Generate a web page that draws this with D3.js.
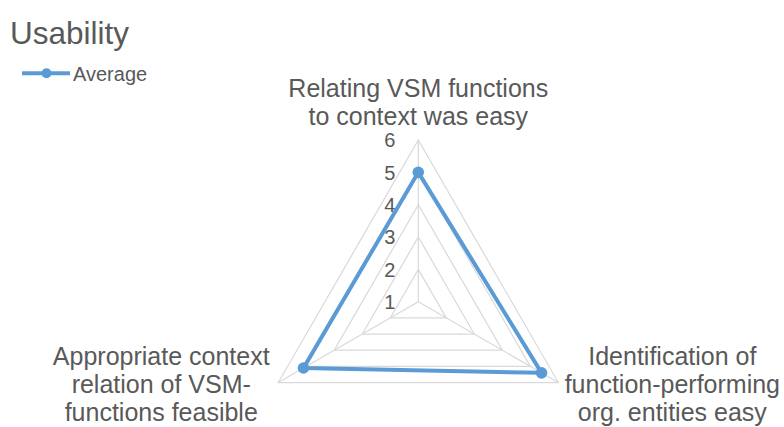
<!DOCTYPE html>
<html>
<head>
<meta charset="utf-8">
<script src="https://cdn.jsdelivr.net/npm/d3@7"></script>
<style>
  body { margin: 0; background: #fff; }
  svg { display: block; font-family: "Liberation Sans", Arial, sans-serif; }
</style>
</head>
<body>
<svg id="chart" width="784" height="427"></svg>
<script>
// Chart data
const categories = [
  ['Relating VSM functions', 'to context was easy'],
  ['Identification of', 'function-performing', 'org. entities easy'],
  ['Appropriate context', 'relation of VSM-', 'functions feasible']
]
const averageValues = [5, 5.4, 5.1]
const tickValues = [1, 2, 3, 4, 5, 6]
const seriesName = 'Average'
const chartTitle = 'Usability'

const svg = d3.select('#chart')
const cx = 418.3
const cy = 301.7
const textColor = '#595959'
const gridColor = '#d9d9d9'
const lineColor = '#5b9bd5'

// Radial scale: center is the axis minimum (1)
const rScale = d3.scaleLinear().domain([1, 6]).range([0, 161.7])
// Angles: top, bottom right, bottom left (clockwise)
const angleScale = d3.scaleLinear().domain([0, categories.length]).range([-Math.PI / 2, 3 * Math.PI / 2])

function point (i, v) {
  const a = angleScale(i)
  return [cx + rScale(v) * Math.cos(a), cy + rScale(v) * Math.sin(a)]
}

// Grid triangles
const gridG = svg.append('g')
tickValues.slice(1).forEach(t => {
  gridG.append('polygon')
    .attr('points', categories.map((c, i) => point(i, t).join(',')).join(' '))
    .attr('fill', 'none')
    .attr('stroke', gridColor)
    .attr('stroke-width', 1.2)
})
// Spokes
categories.forEach((c, i) => {
  const p = point(i, 6)
  gridG.append('line')
    .attr('x1', cx).attr('y1', cy)
    .attr('x2', p[0]).attr('y2', p[1])
    .attr('stroke', gridColor)
    .attr('stroke-width', 1.2)
})

// Tick labels next to the top spoke
svg.append('g').selectAll('text')
  .data(tickValues)
  .join('text')
  .attr('x', cx - 23)
  .attr('y', d => point(0, d)[1])
  .attr('dy', '0.36em')
  .attr('text-anchor', 'end')
  .attr('font-size', 20)
  .attr('fill', textColor)
  .text(d => d)

// Series line
const line = d3.line().curve(d3.curveLinearClosed)
svg.append('path')
  .datum(averageValues.map((v, i) => point(i, v)))
  .attr('d', line)
  .attr('fill', 'none')
  .attr('stroke', lineColor)
  .attr('stroke-width', 4)
  .attr('stroke-linejoin', 'round')

svg.append('g').selectAll('circle')
  .data(averageValues)
  .join('circle')
  .attr('cx', (d, i) => point(i, d)[0])
  .attr('cy', (d, i) => point(i, d)[1])
  .attr('r', 5.8)
  .attr('fill', lineColor)

// Category labels
const labelOffsets = [
  { dx: 0, y0: -43 },   // relative to outer vertex
  { dx: 114, y0: -17.5 },
  { dx: -117, y0: -17.5 }
]
categories.forEach((lines, i) => {
  const p = point(i, 6)
  const t = svg.append('text')
    .attr('text-anchor', 'middle')
    .attr('font-size', 25)
    .attr('fill', textColor)
  lines.forEach((s, k) => {
    t.append('tspan')
      .attr('x', p[0] + labelOffsets[i].dx)
      .attr('y', p[1] + labelOffsets[i].y0 + k * 28)
      .text(s)
  })
})

// Title
svg.append('text')
  .attr('x', 10)
  .attr('y', 43.5)
  .attr('font-size', 31.5)
  .attr('fill', textColor)
  .text(chartTitle)

// Legend
const legend = svg.append('g')
legend.append('line')
  .attr('x1', 22).attr('x2', 70)
  .attr('y1', 73.3).attr('y2', 73.3)
  .attr('stroke', lineColor)
  .attr('stroke-width', 4)
legend.append('circle')
  .attr('cx', 46.5).attr('cy', 73.3)
  .attr('r', 5)
  .attr('fill', lineColor)
legend.append('text')
  .attr('x', 73)
  .attr('y', 81)
  .attr('font-size', 20)
  .attr('fill', textColor)
  .text(seriesName)
</script>
</body>
</html>
